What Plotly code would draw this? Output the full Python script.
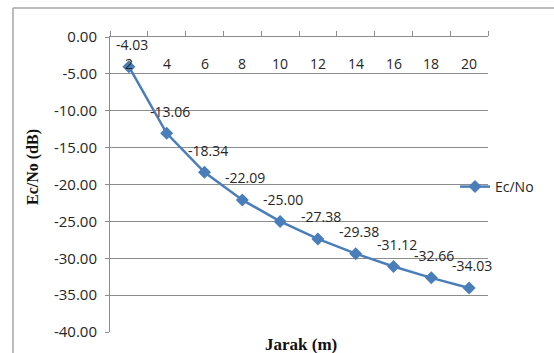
import plotly.graph_objects as go

# Distance (m) and measured Ec/No (dB)
jarak = [2, 4, 6, 8, 10, 12, 14, 16, 18, 20]
ecno = [-4.03, -13.06, -18.34, -22.09, -25.00, -27.38, -29.38, -31.12, -32.66, -34.03]
y_ticks = [0, -5, -10, -15, -20, -25, -30, -35, -40]
y_tick_text = [f"{v:.2f}" for v in y_ticks]

W, H = 554, 353
L, R, T, B = 110, 66, 37, 21
PW, PH = W - L - R, H - T - B


def px_x(p):
    return (p - L) / PW


def px_y(p):
    return (H - B - p) / PH


LINE = "#4A7EBB"
GRID = "#8C8C8C"
TXT = "#262626"
SANS = "Open Sans"
SERIF = "Liberation Serif"

cats = [str(v) for v in jarak]

fig = go.Figure()
fig.add_trace(go.Scatter(
    x=cats, y=ecno, mode="lines+markers", name="Ec/No",
    line=dict(color=LINE, width=2.5),
    marker=dict(symbol="diamond", size=10, color=LINE),
))

# category labels hang just below the top axis line (y = 0)
for i, c in enumerate(cats):
    fig.add_annotation(x=i, y=0, text=c, showarrow=False,
                       yanchor="middle", yshift=-26,
                       font=dict(family=SANS, size=14, color=TXT))

# value labels above each point (category axis: position by index)
for i, v in enumerate(ecno):
    fig.add_annotation(x=i, y=v, text=f"{v:.2f}", showarrow=False,
                       xshift=3, yshift=22,
                       font=dict(family=SANS, size=14, color=TXT))

# axis titles
fig.add_annotation(xref="paper", yref="paper", x=px_x(301), y=px_y(344),
                   xanchor="center", yanchor="middle",
                   text="<b>Jarak (m)</b>", showarrow=False,
                   font=dict(family=SERIF, size=17, color="#111"))
fig.add_annotation(xref="paper", yref="paper", x=px_x(33), y=px_y(167),
                   xanchor="center", yanchor="middle",
                   text="<b>Ec/No (dB)</b>", showarrow=False, textangle=-90,
                   font=dict(family=SERIF, size=16, color="#111"))

# chart border (top and left edges)
fig.add_shape(type="line", xref="paper", yref="paper",
              x0=px_x(13), x1=px_x(W + 5), y0=px_y(8), y1=px_y(8),
              line=dict(color="#A6A6A6", width=1.5), layer="below")
fig.add_shape(type="line", xref="paper", yref="paper",
              x0=px_x(13), x1=px_x(13), y0=px_y(8), y1=px_y(H + 5),
              line=dict(color="#A6A6A6", width=1.5), layer="below")

fig.update_layout(
    width=W, height=H,
    margin=dict(l=L, r=R, t=T, b=B),
    paper_bgcolor="white", plot_bgcolor="white",
    showlegend=True,
    legend=dict(x=px_x(455), y=px_y(187), xanchor="left", yanchor="middle",
                font=dict(family=SANS, size=14, color=TXT),
                bgcolor="rgba(0,0,0,0)", itemwidth=30),
    xaxis=dict(
        type="category", side="top", showticklabels=False,
        tickson="boundaries", ticks="outside", ticklen=5, tickcolor=GRID,
        showline=True, linecolor=GRID, linewidth=1, showgrid=False,
        range=[-0.5, len(cats) - 0.5], zeroline=False,
    ),
    yaxis=dict(
        range=[-40, 0], tickvals=y_ticks, ticktext=y_tick_text,
        ticks="outside", ticklen=4, tickcolor=GRID, ticklabelstandoff=5,
        showline=True, linecolor=GRID, linewidth=1,
        showgrid=True, gridcolor=GRID, gridwidth=1, zeroline=False,
        tickfont=dict(family=SANS, size=15, color=TXT),
    ),
)

fig.write_html("out.html")
